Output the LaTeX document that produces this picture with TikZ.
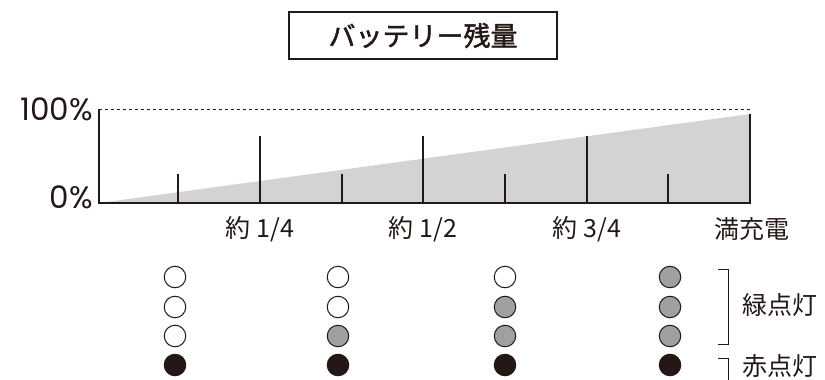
\documentclass[tikz,border=0pt]{standalone}
\usepackage{fontspec}
\newfontfamily\jpfont{Noto Sans CJK JP}
\newfontfamily\jptitle[AutoFakeBold=1.6]{Noto Sans CJK JP}
\newfontfamily\numfont{Poppins}
\usetikzlibrary{positioning}
\definecolor{ink}{HTML}{231815}
\definecolor{barfill}{HTML}{D3D3D4}
\definecolor{lampgray}{HTML}{9FA0A0}

\begin{document}
\begin{tikzpicture}[x=1pt, y=-1pt, ink,
    txt/.style={font=\jpfont\fontsize{25}{25}\selectfont, inner sep=0pt, text=ink},
    pct/.style={font=\numfont\fontsize{31}{31}\selectfont, inner sep=0pt, anchor=east, text=ink},
    lamp/.style={circle, draw=ink, line width=1pt, minimum size=21.5pt, inner sep=0pt}]
  \useasboundingbox (0,0) rectangle (825,380);

  % title
  \node[draw=ink, line width=1.5pt, minimum width=268pt, minimum height=47pt,
        font=\jptitle\bfseries\fontsize{27}{27}\selectfont, text=ink] (title) at (423,35.5) {バッテリー残量};

  % chart
  \coordinate (o)    at (99,203);
  \coordinate (top)  at (99,109);
  \coordinate (full) at (750,114);
  \coordinate (end)  at (750,203);
  \fill[barfill] (o) -- (full) -- (end) -- cycle;
  \draw[line width=1pt, dash pattern=on 3pt off 3pt] (top) -- (750,109);
  \draw[line width=2pt] (top) -- (o) -- (end) -- (full);
  \foreach \x in {178,342,505,668} \draw[line width=1.5pt] (\x,203) -- (\x,174);
  \foreach \x in {260,423,587}     \draw[line width=1.5pt] (\x,203) -- (\x,136);

  \node[pct] (p100) at (93,109) {100\%};
  \node[pct] (p0)   at (93,197) {0\%};

  \node[txt] (q1)   at (260,229) {約 1/4};
  \node[txt] (q2)   at (423,229) {約 1/2};
  \node[txt] (q3)   at (587,229) {約 3/4};
  \node[txt] (q4)   at (752,229) {満充電};

  % lamps
  \foreach \x/\n [count=\i] in {175/0,338/1,505/2,670/3} {
    \foreach \y [count=\r] in {277,307,336} {
      \ifnum\r>\numexpr3-\n\relax \def\fc{lampgray}\else\def\fc{white}\fi
      \node[lamp, fill=\fc] (g\i\r) at (\x,\y) {};
    }
    \node[lamp, fill=ink] (r\i) at (\x,365) {};
  }

  % brackets
  \draw[line width=1pt] (718,269) -- (728,269) -- (728,344) -- (718,344);
  \draw[line width=1pt] (718,358) -- (728,358) -- (728,380);
  \node[txt, anchor=west] (green) at (742,305) {緑点灯};
  \node[txt, anchor=west] (red)   at (742,366) {赤点灯};
\end{tikzpicture}
\end{document}
